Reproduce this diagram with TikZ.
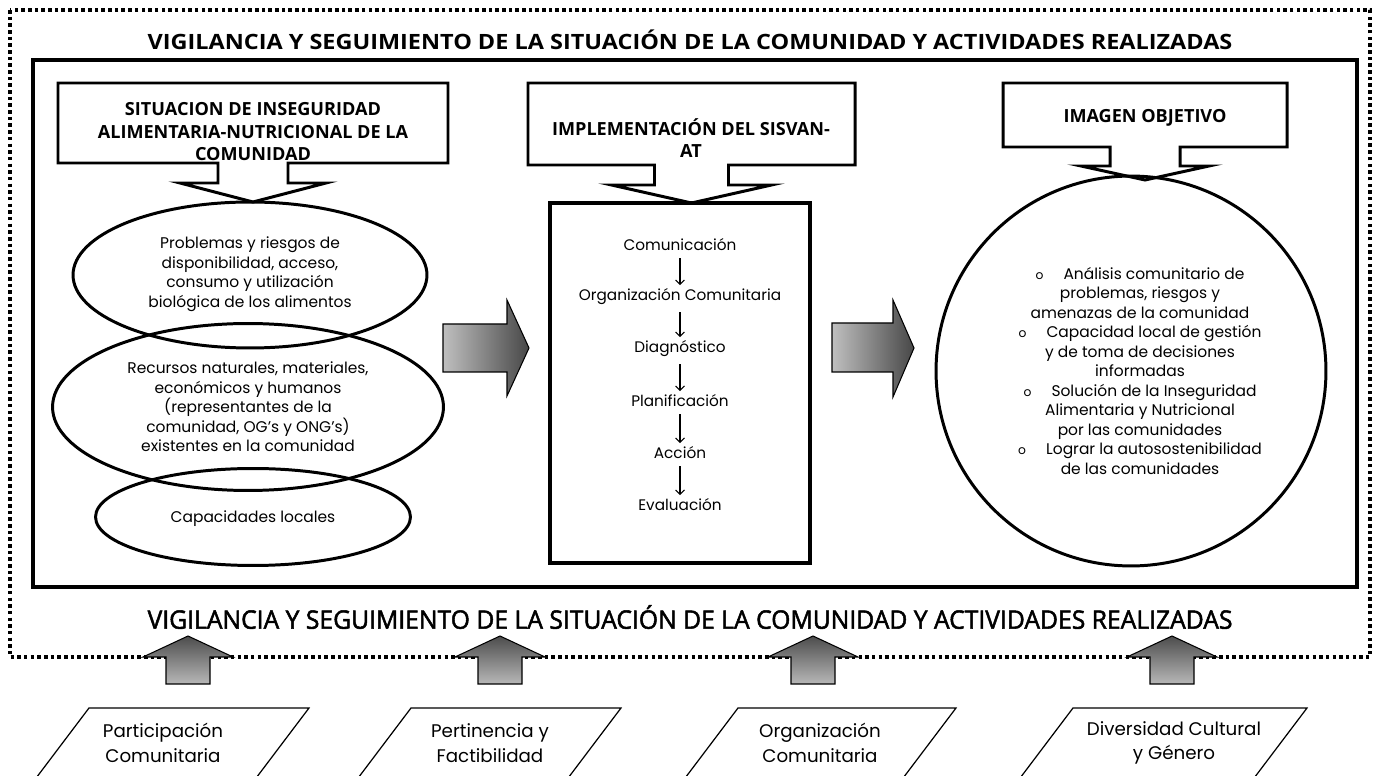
\documentclass[tikz,border=0pt]{standalone}
\usepackage{fontspec}
\usepackage{graphicx}
\setmainfont{Poppins}
\newfontfamily\headfont{Open Sans}
\newfontfamily\pieFont[FakeBold=2]{Open Sans}
\usetikzlibrary{arrows.meta,positioning,shapes.geometric}

\tikzset{
  caja/.style={draw, line width=1.7pt},
  titulo/.style={font=\headfont\bfseries\fontsize{10.3}{12.8}\selectfont, align=center},
  burbuja/.style={draw, ellipse, line width=1.7pt, inner sep=0pt},
  texto/.style={align=center, font=\fontsize{8.8}{11.1}\selectfont},
  paso/.style={font=\fontsize{8.7}{10}\selectfont, inner sep=1pt},
  flecha/.style={draw=black, line width=0.6pt, left color=black!25, right color=black!72},
  subida/.style={draw=black, line width=0.6pt, top color=black!70, bottom color=black!28},
  factor/.style={align=center, font=\fontsize{10.4}{14}\selectfont}
}

\begin{document}
\begin{tikzpicture}[x=0.02cm, y=-0.02cm]
\path[use as bounding box, clip] (0,0) rectangle (1377,776);

% marcos
\draw[line width=2pt, dash pattern=on 2pt off 1.8pt] (10,10) rectangle (1370,657);
\draw[line width=2.8pt] (33,60) rectangle (1357,587);
\node (tituloSup) at (690,40) {\resizebox{21.7cm}{\height}{\headfont\bfseries\fontsize{12}{14}\selectfont
  VIGILANCIA Y SEGUIMIENTO DE LA SITUACIÓN DE LA COMUNIDAD Y ACTIVIDADES REALIZADAS}};
\node (tituloInf) at (690,617) {\resizebox{21.7cm}{\height}{\pieFont\fontsize{14.5}{16}\selectfont
  VIGILANCIA Y SEGUIMIENTO DE LA SITUACIÓN DE LA COMUNIDAD Y ACTIVIDADES REALIZADAS}};

% bocadillos de cabecera
\foreach \l/\r/\b/\sb/\s/\h/\t in {58/448/163/183/35/73/202, 528/855/165/185/37/80/203, 1003/1287/147/166/35/64/180}{
  \pgfmathsetmacro\c{(\l+\r)/2}
  \draw[caja] (\l,83) -- (\r,83) -- (\r,\b) -- (\c+\s,\b) -- (\c+\s,\sb) -- (\c+\h,\sb)
    -- (\c,\t) -- (\c-\h,\sb) -- (\c-\s,\sb) -- (\c-\s,\b) -- (\l,\b) -- cycle;
}
\node[titulo] (situacion) at (253,132) {SITUACION DE INSEGURIDAD\\ALIMENTARIA-NUTRICIONAL DE LA\\COMUNIDAD};
\node[titulo] (sisvan) at (691,138) {IMPLEMENTACIÓN DEL SISVAN-\\AT};
\node[titulo] (imagen) at (1145,118) {IMAGEN OBJETIVO};

% situacion de la comunidad
\node[burbuja, minimum width=7.08cm, minimum height=2.92cm] (problemas) at (250,275) {};
\node[burbuja, minimum width=7.82cm, minimum height=3.34cm] (recursos) at (248,407) {};
\node[burbuja, minimum width=6.3cm, minimum height=1.94cm] (capacidades) at (253,517) {};
\node[texto] (problemasTxt) at (250,274)
  {Problemas y riesgos de\\disponibilidad, acceso,\\consumo y utilización\\biológica de los alimentos};
\node[texto] (recursosTxt) at (248,407)
  {Recursos naturales, materiales,\\económicos y humanos\\(representantes de la\\comunidad, OG's y ONG's)\\existentes en la comunidad};
\node[texto] (capacidadesTxt) at (253,519) {Capacidades locales};

% SISVAN-AT
\draw[line width=2.8pt] (550,203) rectangle (810,563);
\foreach \t [count=\i] in {Comunicación, Organización Comunitaria, Diagnóstico, Planificación, Acción, Evaluación}
  \node[paso] (p\i) at (680,{193+52*\i}) {\t};
\foreach \i [evaluate=\i as \j using int(\i+1)] in {1,...,5}
  \draw[line width=0.6pt, -{Straight Barb[length=2.5pt,width=5pt]}, shorten <=3pt, shorten >=1pt] (p\i) -- (p\j);

% flechas grises
\draw[flecha] (443,324) -- (507,324) -- (507,300) -- (529,348) -- (507,396) -- (507,372) -- (443,372) -- cycle;
\draw[flecha] (832,323) -- (893,323) -- (893,300) -- (914,348) -- (893,397) -- (893,372) -- (832,372) -- cycle;

% imagen objetivo
\node[burbuja, minimum width=7.8cm, minimum height=7.8cm] (objetivo) at (1131,371) {};
\node[texto] (objetivoTxt) at (1140,371)
  {{\scriptsize o}\hspace{1.3em}Análisis comunitario de\\
   problemas, riesgos y\\
   amenazas de la comunidad\\
   {\scriptsize o}\hspace{1.3em}Capacidad local de gestión\\
   y de toma de decisiones\\
   informadas\\
   {\scriptsize o}\hspace{1.3em}Solución de la Inseguridad\\
   Alimentaria y Nutricional\\
   por las comunidades\\
   {\scriptsize o}\hspace{1.3em}Lograr la autosostenibilidad\\
   de las comunidades};

% ejes transversales
\foreach \c in {188,500,813,1172}
  \draw[subida] (\c-22,684) -- (\c-22,657) -- (\c-45,657) -- (\c,636) -- (\c+45,657) -- (\c+22,657) -- (\c+22,684) -- cycle;
\foreach \a/\b/\c/\t/\n in {89/309/163/{Participación\\Comunitaria}/part, 411/621/490/{Pertinencia y\\Factibilidad}/pert,
  738/956/820/{Organización\\Comunitaria}/orga, 1073/1307/1174/{Diversidad Cultural\\y Género}/dive}{
  \draw[line width=0.7pt] (\a,708) -- (\b,708) -- (\b-68,798) -- (\a-68,798) -- cycle;
  \node[factor] (\n) at (\c,743) {\t};
}
\end{tikzpicture}
\end{document}
